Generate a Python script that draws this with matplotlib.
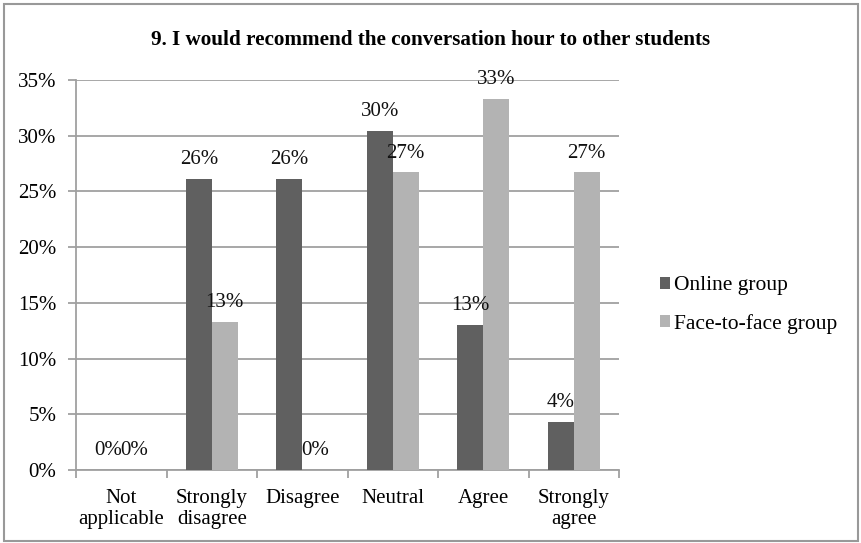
import numpy as np
import matplotlib
matplotlib.use("Agg")
import matplotlib.pyplot as plt
from matplotlib.patches import Rectangle

categories = ["Not\napplicable", "Strongly\ndisagree", "Disagree", "Neutral", "Agree", "Strongly\nagree"]
online = [0.0, 26.1, 26.1, 30.4, 13.0, 4.3]
face_to_face = [0.0, 13.3, 0.0, 26.7, 33.3, 26.7]
series_names = ["Online group", "Face-to-face group"]
yticks = [0, 5, 10, 15, 20, 25, 30, 35]

plt.rcParams["font.family"] = ["Liberation Serif", "DejaVu Serif"]

fig = plt.figure(figsize=(8.61, 5.43), dpi=100)
ax = fig.add_axes([76 / 861, 1 - 470 / 543, 543 / 861, 390 / 543])

x = np.arange(len(categories))
w = 0.287
b1 = ax.bar(x - w / 2, online, w, color="#606060", label=series_names[0], zorder=3)
b2 = ax.bar(x + w / 2, face_to_face, w, color="#b3b3b3", label=series_names[1], zorder=3)

for bars, vals in ((b1, online), (b2, face_to_face)):
    for rect, v in zip(bars, vals):
        ax.annotate(f"{v:.0f}%", (rect.get_x() + rect.get_width() / 2, v),
                    xytext=(0, 14), textcoords="offset points",
                    ha="center", va="center", fontsize=15, color="#111111", zorder=4)

ax.set_xlim(-0.5, len(categories) - 0.5)
ax.set_ylim(0, 35)
ax.set_yticks(yticks)
ax.set_yticklabels([f"{t}%" for t in yticks], fontsize=15)
ax.yaxis.grid(True, color="#a0a0a0", linewidth=1.3, zorder=0)
ax.set_xticks(x)
ax.set_xticklabels(categories, fontsize=15, linespacing=1.12)
ax.set_xticks(np.arange(len(categories) + 1) - 0.5, minor=True)
ax.tick_params(axis="x", which="major", length=0, pad=14)
ax.tick_params(axis="x", which="minor", length=6, width=1.3, color="#a0a0a0", direction="out")
ax.tick_params(axis="y", length=6, width=1.3, color="#a0a0a0", pad=8)

for s in ("top", "right"):
    ax.spines[s].set_visible(False)
for s in ("left", "bottom"):
    ax.spines[s].set_color("#a0a0a0")
    ax.spines[s].set_linewidth(1.3)

fig.text(431 / 861, 1 - 40 / 543, "9. I would recommend the conversation hour to other students",
         ha="center", va="center", fontsize=15.2, fontweight="bold")

fig.legend(loc="center left", bbox_to_anchor=(641 / 861, 1 - 305 / 543), frameon=False,
           fontsize=15.5, handlelength=0.45, handleheight=0.45, handletextpad=0.2,
           labelspacing=0.85)

fig.patches.append(Rectangle((4 / 861, 2 / 543), 854 / 861, 537 / 543, transform=fig.transFigure,
                             fill=False, edgecolor="#999999", linewidth=1.5))

fig.savefig("out.png", dpi=100)
